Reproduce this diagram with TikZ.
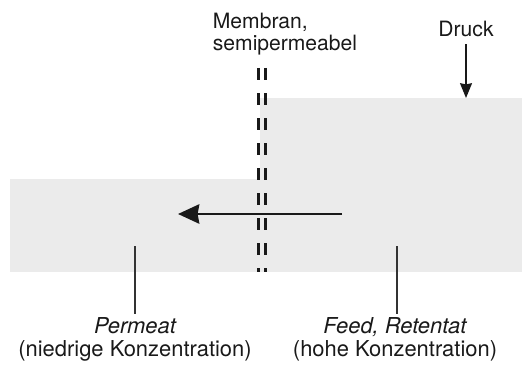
\documentclass[tikz,border=0pt]{standalone}
\usepackage{fontspec}
\setmainfont{TeX Gyre Heros}
\usetikzlibrary{arrows.meta}
\definecolor{boxgray}{HTML}{EBEBEB}
\begin{document}
\begin{tikzpicture}[x=0.025cm,y=-0.025cm,
  lbl/.style={font=\fontsize{15}{16}\selectfont, text=black!90, inner sep=0pt, align=center},
  botlbl/.style={font=\fontsize{15.6}{16.5}\selectfont, text=black!90, inner sep=0pt, align=center},
  lead/.style={line width=0.9pt, black!80},
  memline/.style={line width=2.2pt, black!90, dash pattern=on 0.3cm off 0.325cm}]
\useasboundingbox (0,0) rectangle (523,379);

% feed side and permeate side
\fill[boxgray] (260,98) rectangle (522,272);
\fill[boxgray] (10,179) rectangle (260,272);

% membrane
\draw[memline] (258.5,68) -- (258.5,272);
\draw[memline] (265.5,68) -- (265.5,272);

% flow through the membrane
\coordinate (flowstart) at (342,214);
\coordinate (flowend) at (178,214);
\draw[line width=2.1pt, black!90, -{Stealth[length=0.53cm,width=0.48cm,inset=0.04cm]}] (flowstart) -- (flowend);

% labels
\node[lbl, align=left] (membran) at (285,34) {Membran,\\semipermeabel};
\node[lbl] (druck) at (466,29) {Druck};
\coordinate (druckend) at (466,98);
\draw[line width=0.9pt, black!90, -{Stealth[length=0.37cm,width=0.3cm,inset=0.03cm]}] (druck.south) ++(0,7) -- (druckend);

\node[botlbl, anchor=north] (permeat) at (135,317) {\itshape Permeat\\(niedrige Konzentration)};
\node[botlbl, anchor=north] (feed) at (395,317) {\itshape Feed, Retentat\\(hohe Konzentration)};
\coordinate (permtop) at (135,246);
\coordinate (feedtop) at (397,246);
\draw[lead] (permtop) -- (135,314);
\draw[lead] (feedtop) -- (397,314);
\end{tikzpicture}
\end{document}
